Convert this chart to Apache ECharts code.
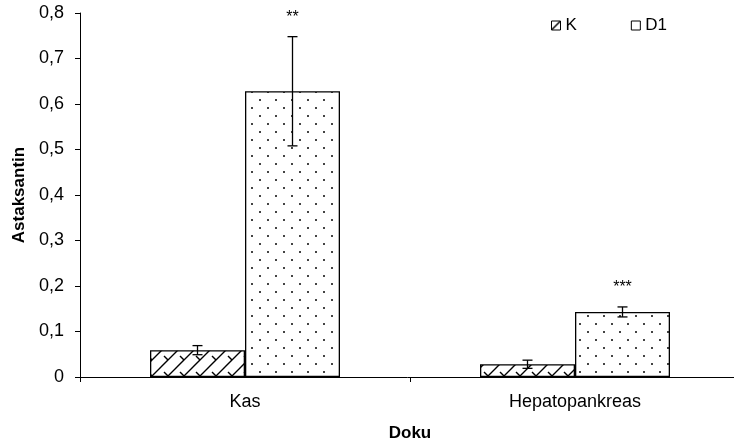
<!DOCTYPE html>
<html>
<head>
<meta charset="utf-8">
<script src="https://cdn.jsdelivr.net/npm/echarts@6/dist/echarts.min.js"></script>
<style>
  html, body { margin: 0; padding: 0; background: #fff; }
  #chart { width: 734px; height: 445px; }
</style>
</head>
<body>
<div id="chart"></div>
<script>
var categories = ['Kas', 'Hepatopankreas'];
var kValues = [0.059, 0.028];
var kErrors = [0.010, 0.009];
var d1Values = [0.628, 0.143];
var d1Errors = [0.120, 0.011];
var d1Stars = ['**', '***'];
var yTicks = [0, 0.1, 0.2, 0.3, 0.4, 0.5, 0.6, 0.7, 0.8];

var BAR_W = 95;
var FONT = 'Liberation Sans, Arial, sans-serif';

// hatch fill for K
function hatchPattern() {
  var c = document.createElement('canvas');
  c.width = 16; c.height = 16;
  var ctx = c.getContext('2d');
  ctx.fillStyle = '#fff';
  ctx.fillRect(0, 0, 16, 16);
  ctx.strokeStyle = '#000';
  ctx.lineWidth = 1.4;
  ctx.beginPath();
  ctx.moveTo(-2, 18); ctx.lineTo(18, -2);
  ctx.moveTo(-10, 10); ctx.lineTo(10, -10);
  ctx.moveTo(6, 26); ctx.lineTo(26, 6);
  ctx.stroke();
  ctx.beginPath();
  ctx.moveTo(4, 4); ctx.lineTo(8, 8);
  ctx.stroke();
  return c;
}

// small legend swatch: one diagonal stroke
function legendHatch() {
  var c = document.createElement('canvas');
  c.width = 9; c.height = 9;
  var ctx = c.getContext('2d');
  ctx.fillStyle = '#fff';
  ctx.fillRect(0, 0, 9, 9);
  ctx.strokeStyle = '#000';
  ctx.lineWidth = 1.4;
  ctx.beginPath();
  ctx.moveTo(0, 9); ctx.lineTo(9, 0);
  ctx.stroke();
  return c;
}

// dotted fill for D1
function dotPattern() {
  var c = document.createElement('canvas');
  c.width = 16; c.height = 16;
  var ctx = c.getContext('2d');
  ctx.fillStyle = '#fff';
  ctx.fillRect(0, 0, 16, 16);
  ctx.fillStyle = '#444';
  ctx.fillRect(3, 3, 2, 2);
  ctx.fillRect(11, 11, 2, 2);
  return c;
}

var errData = [];
for (var i = 0; i < categories.length; i++) {
  errData.push([i, kValues[i], kErrors[i], -BAR_W / 2, '']);
  errData.push([i, d1Values[i], d1Errors[i], BAR_W / 2, d1Stars[i]]);
}

var chart = echarts.init(document.getElementById('chart'));
chart.setOption({
  animation: false,
  textStyle: { fontFamily: FONT, color: '#000' },
  grid: { left: 80, right: -6, top: 13, bottom: 68, outerBoundsMode: 'none', containLabel: false },
  legend: {
    left: 546, top: 12,
    icon: 'rect',
    itemWidth: 9, itemHeight: 9, itemGap: 54,
    textStyle: { fontSize: 17, color: '#000', fontFamily: FONT },
    data: [
      { name: 'K', itemStyle: { color: { image: legendHatch(), repeat: 'no-repeat' }, borderColor: '#000', borderWidth: 1 } },
      { name: 'D1', itemStyle: { color: '#fff', borderColor: '#000', borderWidth: 1 } }
    ]
  },
  xAxis: {
    type: 'category',
    data: categories,
    name: 'Doku',
    nameLocation: 'middle',
    nameGap: 48,
    nameTextStyle: { fontWeight: 'bold', fontSize: 17, color: '#000', fontFamily: FONT },
    axisLine: { lineStyle: { color: '#000', width: 1 } },
    axisTick: { show: true, length: 5, lineStyle: { color: '#000' } },
    axisLabel: { fontSize: 18, color: '#000', margin: 16, fontFamily: FONT }
  },
  yAxis: {
    type: 'value',
    min: 0, max: 0.8, interval: 0.1,
    name: 'Astaksantin',
    nameLocation: 'middle',
    nameGap: 51,
    nameTextStyle: { fontWeight: 'bold', fontSize: 17, color: '#000', fontFamily: FONT },
    axisLine: { show: true, lineStyle: { color: '#000', width: 1 } },
    axisTick: { show: true, length: 5, lineStyle: { color: '#000' } },
    splitLine: { show: false },
    axisLabel: {
      fontSize: 18, color: '#000', margin: 16, fontFamily: FONT,
      formatter: function (v) {
        var t = yTicks.find(function (x) { return Math.abs(x - v) < 1e-9; });
        return t === 0 ? '0' : t.toFixed(1).replace('.', ',');
      }
    }
  },
  series: [
    {
      name: 'K', type: 'bar', barWidth: BAR_W, barGap: '0%',
      itemStyle: { color: { image: hatchPattern(), repeat: 'repeat' }, borderColor: '#000', borderWidth: 1.3 },
      data: kValues
    },
    {
      name: 'D1', type: 'bar', barWidth: BAR_W, barGap: '0%',
      itemStyle: { color: { image: dotPattern(), repeat: 'repeat' }, borderColor: '#000', borderWidth: 1.3 },
      data: d1Values
    },
    {
      type: 'custom',
      silent: true,
      z: 10,
      data: errData,
      renderItem: function (params, api) {
        var cat = api.value(0), val = api.value(1), err = api.value(2), off = api.value(3);
        var star = errData[params.dataIndex][4];
        var top = api.coord([cat, val + err]);
        var bot = api.coord([cat, val - err]);
        var x = top[0] + off;
        var cap = 5;
        var style = { stroke: '#000', lineWidth: 1.3 };
        var children = [
          { type: 'line', shape: { x1: x, y1: top[1], x2: x, y2: bot[1] }, style: style },
          { type: 'line', shape: { x1: x - cap, y1: top[1], x2: x + cap, y2: top[1] }, style: style },
          { type: 'line', shape: { x1: x - cap, y1: bot[1], x2: x + cap, y2: bot[1] }, style: style }
        ];
        if (star) {
          children.push({
            type: 'text',
            style: { text: star, x: x, y: top[1] - 19, align: 'center', verticalAlign: 'middle',
                     fontSize: 16, fill: '#000', fontFamily: FONT }
          });
        }
        return { type: 'group', children: children };
      }
    }
  ]
});
</script>
</body>
</html>
